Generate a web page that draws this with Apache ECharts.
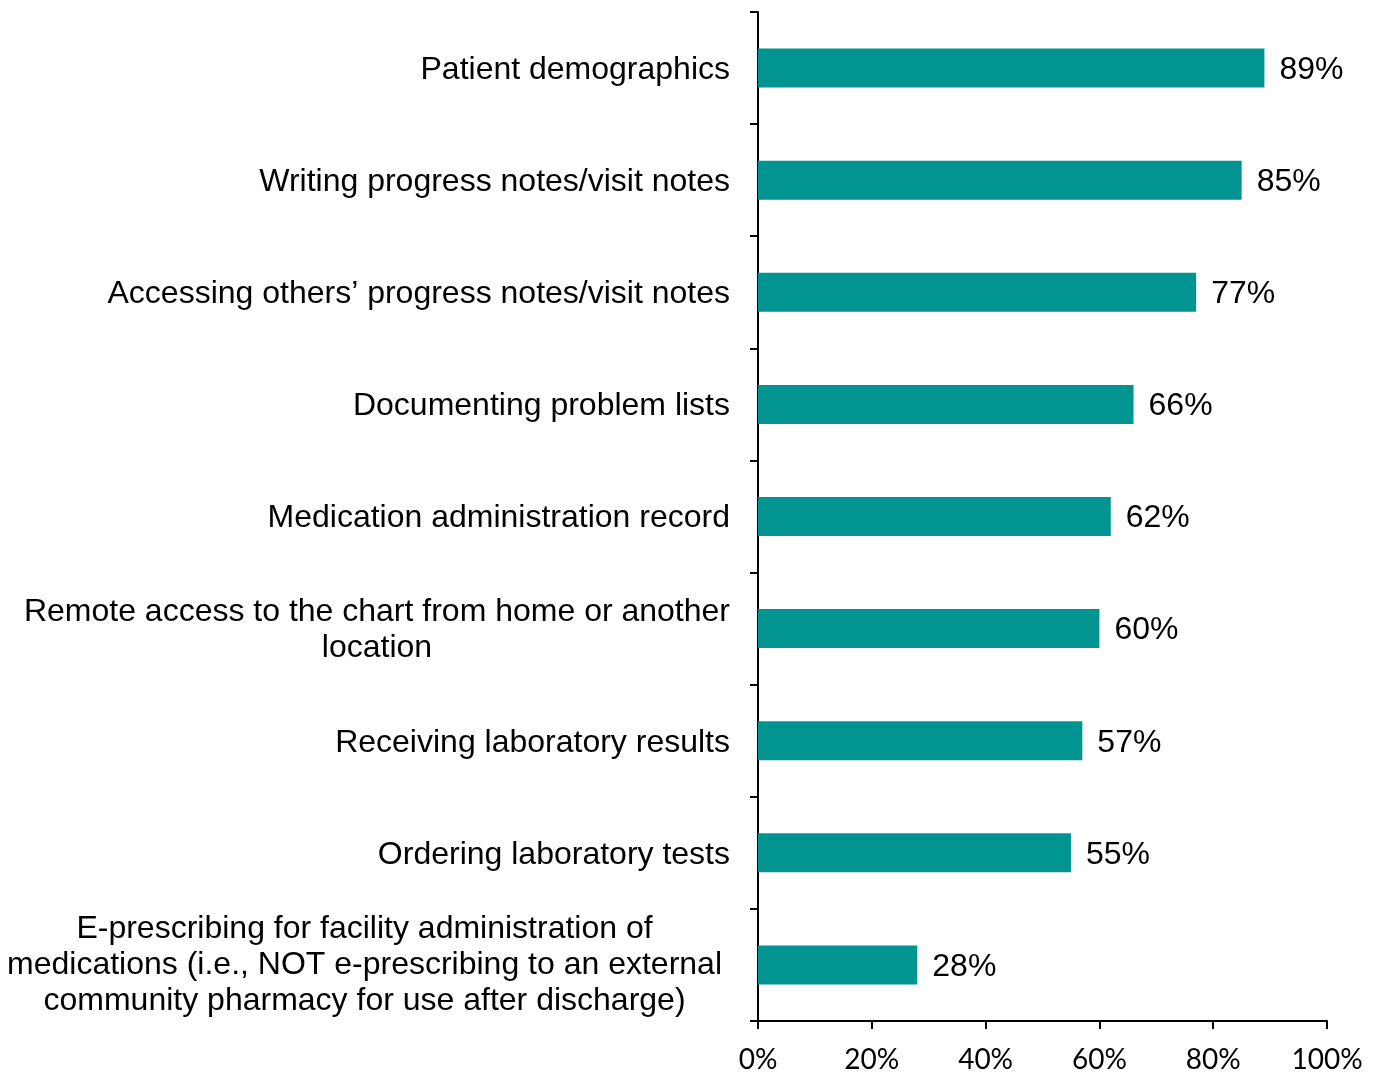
<!DOCTYPE html>
<html>
<head>
<meta charset="utf-8">
<script src="https://cdn.jsdelivr.net/npm/echarts@6/dist/echarts.min.js"></script>
<style>
  html, body { margin: 0; padding: 0; background: #fff; }
  #chart { width: 1378px; height: 1074px; }
</style>
</head>
<body>
<div id="chart"></div>
<script>
// 类目（从下到上）
const categories = [
  'E-prescribing for facility administration of\nmedications (i.e., NOT e-prescribing to an external\ncommunity pharmacy for use after discharge)',
  'Ordering laboratory tests',
  'Receiving laboratory results',
  'Remote access to the chart from home or another\nlocation',
  'Medication administration record',
  'Documenting problem lists',
  'Accessing others\u2019 progress notes/visit notes',
  'Writing progress notes/visit notes',
  'Patient demographics'
]
const values = [28, 55, 57, 60, 62, 66, 77, 85, 89]
const xTicks = [0, 20, 40, 60, 80, 100]

const barColor = '#029490'
const labelFont = '"Liberation Sans", Arial, sans-serif'

let myChart = echarts.init(document.getElementById('chart'))
let options = {
  animation: false,
  grid: { left: 758, right: 51, top: 12, bottom: 52 },
  xAxis: {
    type: 'value',
    min: xTicks[0],
    max: xTicks[xTicks.length - 1],
    interval: 20,
    axisLine: { show: true, lineStyle: { color: '#000', width: 2 } },
    axisTick: { show: true, length: 8, lineStyle: { color: '#000', width: 2 } },
    splitLine: { show: false },
    axisLabel: {
      margin: 25,
      color: '#000',
      fontSize: 28,
      fontFamily: 'Lato, sans-serif',
      formatter: v => v + '%'
    }
  },
  yAxis: {
    type: 'category',
    data: categories,
    axisLine: { show: true, lineStyle: { color: '#000', width: 2 } },
    axisTick: { show: true, length: 8, inside: false, lineStyle: { color: '#000', width: 2 } },
    axisLabel: {
      margin: 28,
      interval: 0,
      formatter: function (value, idx) {
        let style = idx === 0 ? 'b' : 'a'
        return value.split('\n').map(s => `{${style}|${s}}`).join('\n')
      },
      rich: {
        a: { fontSize: 32, fontFamily: labelFont, color: '#000', lineHeight: 36, align: 'center', padding: [4, 0, 0, 0] },
        b: { fontSize: 32, fontFamily: labelFont, color: '#000', lineHeight: 36, align: 'center', padding: [0, 8, 0, 0] }
      }
    }
  },
  series: [
    {
      type: 'bar',
      data: values,
      barWidth: 39,
      itemStyle: { color: barColor },
      label: {
        show: true,
        position: 'right',
        distance: 15,
        offset: [0, 2],
        color: '#000',
        fontSize: 32,
        fontFamily: labelFont,
        formatter: p => p.value + '%'
      }
    }
  ]
}
myChart.setOption(options)
</script>
</body>
</html>
